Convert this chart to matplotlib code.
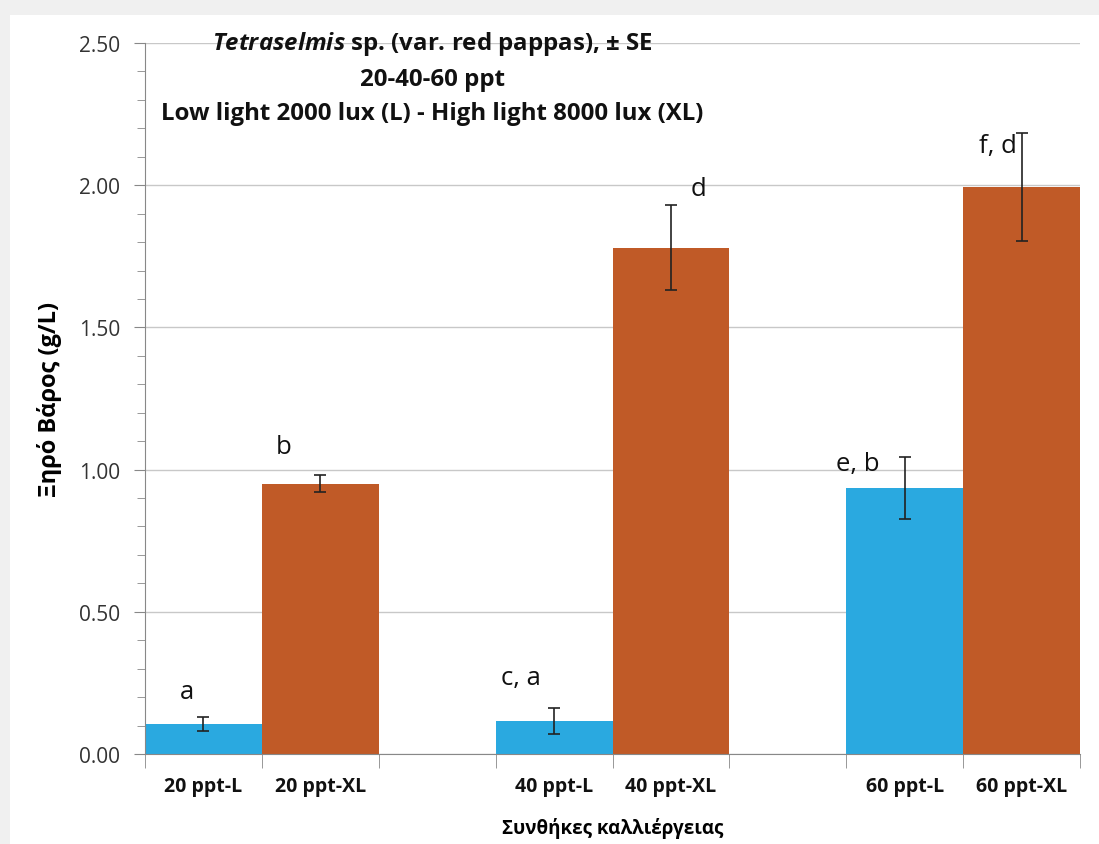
import matplotlib.pyplot as plt
from matplotlib.patches import Rectangle
from matplotlib.ticker import MultipleLocator, FixedLocator

plt.rcParams['font.family'] = ['Open Sans', 'DejaVu Sans']
plt.rcParams['mathtext.fontset'] = 'custom'
plt.rcParams['mathtext.it'] = 'Open Sans:italic:bold'

# categories on the axis (empty slots separate the salinity groups)
categories = ['20 ppt-L', '20 ppt-XL', '', '40 ppt-L', '40 ppt-XL', '', '60 ppt-L', '60 ppt-XL']
values = [0.105, 0.95, None, 0.115, 1.78, None, 0.935, 1.995]
errors = [0.025, 0.03, None, 0.045, 0.15, None, 0.11, 0.19]
light = ['L', 'XL', None, 'L', 'XL', None, 'L', 'XL']
letters = ['a', 'b', None, 'c, a', 'd', None, 'e, b', 'f, d']
# label placement: (x offset in categories, y in data units)
letter_pos = [(-0.14, 0.22), (-0.31, 1.08), None, (-0.28, 0.27), (0.24, 1.99), None, (-0.40, 1.02), (-0.20, 2.14)]

colors = {'L': '#2aa9e0', 'XL': '#c05a27'}

fig = plt.figure(figsize=(10.99, 8.45), dpi=100)
fig.patch.set_facecolor('#f0f0f0')
fig.patches.append(Rectangle((10 / 1099, 0), 1, 1 - 16 / 845, transform=fig.transFigure,
                             facecolor='white', edgecolor='none', zorder=-5))

ax = fig.add_axes([145 / 1099, 1 - 755 / 845, 935 / 1099, (755 - 44) / 845])
ax.set_facecolor('none')

for i, v in enumerate(values):
    if v is None:
        continue
    ax.bar(i, v, width=1.0, color=colors[light[i]], edgecolor='none', zorder=2)
    ax.errorbar(i, v, yerr=errors[i], fmt='none', ecolor='#222222', elinewidth=1.2,
                capsize=4, capthick=1.2, zorder=3)
    dx, ly = letter_pos[i]
    ax.text(i + dx, ly, letters[i], ha='center', va='center', fontsize=18.5, color='#111111', zorder=4)

ax.set_xlim(-0.5, len(categories) - 0.5)
ax.set_ylim(0, 2.5)
ax.yaxis.set_major_locator(MultipleLocator(0.5))
ax.yaxis.set_minor_locator(MultipleLocator(0.1))
ax.set_yticklabels(['%.2f' % t for t in ax.get_yticks()])
ax.grid(axis='y', color='#c8c8c8', linewidth=1.0, zorder=0)
ax.set_axisbelow(True)

ax.xaxis.set_major_locator(FixedLocator(range(len(categories))))
ax.set_xticklabels(categories, fontsize=14, fontweight='bold', color='#111111')
ax.xaxis.set_minor_locator(FixedLocator([i - 0.5 for i in range(len(categories) + 1)]))
ax.tick_params(axis='x', which='major', length=0, pad=16)
ax.tick_params(axis='x', which='minor', length=10, color='#888888', direction='out')
ax.tick_params(axis='y', which='major', length=8, color='#888888', labelsize=15, labelcolor='#333333', pad=10)
ax.tick_params(axis='y', which='minor', length=6, color='#888888')

for s in ['top', 'right']:
    ax.spines[s].set_visible(False)
ax.spines['left'].set_color('#888888')
ax.spines['bottom'].set_color('#888888')

ax.set_ylabel('Ξηρό Βάρος (g/L)', fontsize=17, fontweight='bold', labelpad=12)
ax.set_xlabel('Συνθήκες καλλιέργειας', fontsize=13.5, fontweight='bold', labelpad=15)

fig.text(432 / 1099, 1 - 44 / 845, r'$\mathit{Tetraselmis}$' + ' sp. (var. red pappas), ± SE',
         ha='center', va='center', fontsize=17.3, fontweight='bold', color='#111111')
fig.text(432 / 1099, 1 - 80 / 845, '20-40-60 ppt', ha='center', va='center',
         fontsize=17.3, fontweight='bold', color='#111111')
fig.text(432 / 1099, 1 - 114 / 845, 'Low light 2000 lux (L) - High light 8000 lux (XL)',
         ha='center', va='center', fontsize=17.3, fontweight='bold', color='#111111')

fig.savefig('out.png', dpi=100, facecolor=fig.get_facecolor())
